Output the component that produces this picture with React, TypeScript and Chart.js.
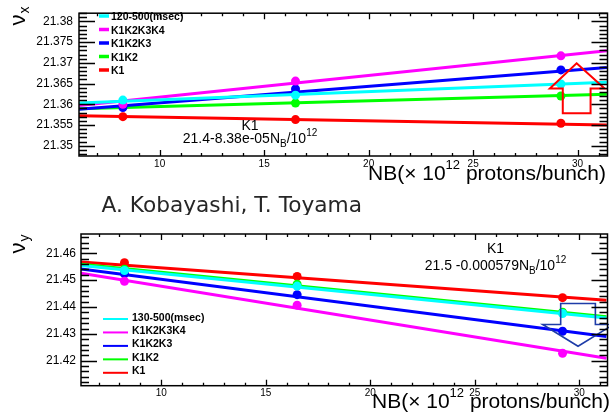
import React, { useEffect, useRef } from "react";
import { Chart, registerables } from "chart.js";
Chart.register(...registerables);

// ---------------- shared data ----------------
const nbValues = [8.24, 16.5, 29.2];
const seriesColors = ["#00ffff", "#ff00ff", "#0000ff", "#00ff00", "#ff0000"];
const xTickValues = [10, 15, 20, 25, 30];
const xTickLabels = ["10", "15", "20", "25", "30"];

// ---------------- top panel (nu_x) ----------------
const topLabels = ["120-500(msec)", "K1K2K3K4", "K1K2K3", "K1K2", "K1"];
const nuX_120_500 = [21.361, 21.3622, 21.3649];
const nuX_K1K2K3K4 = [21.36, 21.3656, 21.3717];
const nuX_K1K2K3 = [21.3592, 21.3637, 21.3683];
const nuX_K1K2 = [21.3594, 21.3603, 21.362];
const nuX_K1 = [21.357, 21.3563, 21.3554];
const nuXFitNB = [6.14, 31.4];
const nuXFitStart = [21.3603, 21.3597, 21.3588, 21.3589, 21.3572];
const nuXFitEnd = [21.3653, 21.3729, 21.3689, 21.3624, 21.355];
const yTickValuesTop = [21.35, 21.355, 21.36, 21.365, 21.37, 21.375, 21.38];
const yTickLabelsTop = ["21.35", "21.355", "21.36", "21.365", "21.37", "21.375", "21.38"];

// ---------------- bottom panel (nu_y) ----------------
const bottomLabels = ["130-500(msec)", "K1K2K3K4", "K1K2K3", "K1K2", "K1"];
const nuY_130_500 = [21.4536, 21.4478, 21.4376];
const nuY_K1K2K3K4 = [21.4496, 21.4407, 21.4228];
const nuY_K1K2K3 = [21.4524, 21.4446, 21.431];
const nuY_K1K2 = [21.4541, 21.4485, 21.4381];
const nuY_K1 = [21.4565, 21.4514, 21.4435];
const nuYFitNB = [6.16, 31.3];
const nuYFitStart = [21.4555, 21.4526, 21.4542, 21.4559, 21.4568];
const nuYFitEnd = [21.4359, 21.4209, 21.429, 21.4364, 21.4425];
const yTickValuesBottom = [21.42, 21.43, 21.44, 21.45, 21.46];
const yTickLabelsBottom = ["21.42", "21.43", "21.44", "21.45", "21.46"];

const FONT = "'Liberation Sans', Arial, Helvetica, sans-serif";

type Seg = [string, number, number];

function drawRich(ctx: CanvasRenderingContext2D, segs: Seg[], x: number, y: number, align: "left" | "center") {
  let w = 0;
  for (const s of segs) {
    ctx.font = `${s[1]}px ${FONT}`;
    w += ctx.measureText(s[0]).width;
  }
  let cx = align === "center" ? x - w / 2 : x;
  ctx.textAlign = "left";
  ctx.textBaseline = "alphabetic";
  for (const s of segs) {
    ctx.font = `${s[1]}px ${FONT}`;
    ctx.fillText(s[0], cx, y + s[2]);
    cx += ctx.measureText(s[0]).width;
  }
}

function buildDatasets(labels: string[], series: number[][], fitNB: number[], fitStart: number[], fitEnd: number[]) {
  const ds: any[] = [];
  labels.forEach((lab, i) => {
    const c = seriesColors[i];
    ds.push({
      label: lab,
      data: nbValues.map((x, j) => ({ x, y: series[i][j] })),
      showLine: false,
      pointRadius: 4.5,
      pointBackgroundColor: c,
      pointBorderWidth: 0,
      borderColor: c,
      backgroundColor: c,
    });
    ds.push({
      label: lab + " fit",
      data: [
        { x: fitNB[0], y: fitStart[i] },
        { x: fitNB[1], y: fitEnd[i] },
      ],
      borderColor: c,
      backgroundColor: c,
      borderWidth: 3,
      pointRadius: 0,
      fill: false,
    });
  });
  return ds;
}

interface Deco {
  yMinorStep: number;
  yMajor: number[];
  legendLabels: string[];
  legend: { sx0: number; sx1: number; tx: number; base0: number; step: number; lw: number; sdy: number };
  annoX: number;
  anno: { y: number; segs: Seg[] }[];
  arrow: { pts: number[][]; color: string; lw: number };
  title: { x: number; y: number; sub: string };
  nb: { x: number; y: number };
  author?: { x: number; y: number };
}

function makePlugin(d: Deco) {
  return {
    id: "deco",
    afterDraw(chart: any) {
      const ctx: CanvasRenderingContext2D = chart.ctx;
      const { left, right, top, bottom } = chart.chartArea;
      const xs = chart.scales.x;
      const ys = chart.scales.y;
      ctx.save();
      // arrow
      ctx.strokeStyle = d.arrow.color;
      ctx.lineWidth = d.arrow.lw;
      ctx.beginPath();
      d.arrow.pts.forEach((p, i) => {
        const px = xs.getPixelForValue(p[0]);
        const py = ys.getPixelForValue(p[1]);
        if (i === 0) ctx.moveTo(px, py);
        else ctx.lineTo(px, py);
      });
      ctx.closePath();
      ctx.stroke();

      // frame
      ctx.strokeStyle = "#000";
      ctx.lineWidth = 1.5;
      ctx.strokeRect(left, top, right - left, bottom - top);
      // y ticks
      ctx.lineWidth = 1.3;
      ctx.beginPath();
      const ymin = ys.min, ymax = ys.max;
      const k0 = Math.ceil(ymin / d.yMinorStep - 1e-6), k1 = Math.floor(ymax / d.yMinorStep + 1e-6);
      for (let k = k0; k <= k1; k++) {
        const v = k * d.yMinorStep;
        const major = d.yMajor.some((m) => Math.abs(m - v) < d.yMinorStep / 10);
        const len = major ? 16 : 8;
        const py = Math.round(ys.getPixelForValue(v)) + 0.5;
        ctx.moveTo(left, py);
        ctx.lineTo(left + len, py);
        ctx.moveTo(right, py);
        ctx.lineTo(right - len, py);
      }
      // x ticks
      for (let k = Math.ceil(xs.min); k <= Math.floor(xs.max); k++) {
        const major = k % 5 === 0;
        const len = major ? 6 : 3;
        const px = Math.round(xs.getPixelForValue(k)) + 0.5;
        ctx.moveTo(px, bottom);
        ctx.lineTo(px, bottom - len);
        ctx.moveTo(px, top);
        ctx.lineTo(px, top + len);
      }
      ctx.stroke();

      // legend
      const L = d.legend;
      d.legendLabels.forEach((lab, i) => {
        const by = L.base0 + i * L.step;
        ctx.strokeStyle = seriesColors[i];
        ctx.lineWidth = L.lw;
        ctx.beginPath();
        ctx.moveTo(L.sx0, by + L.sdy);
        ctx.lineTo(L.sx1, by + L.sdy);
        ctx.stroke();
        ctx.fillStyle = "#000";
        ctx.font = `bold 10.5px ${FONT}`;
        ctx.textAlign = "left";
        ctx.textBaseline = "alphabetic";
        ctx.fillText(lab, L.tx, by);
      });

      // annotation
      ctx.fillStyle = "#000";
      d.anno.forEach((a) => drawRich(ctx, a.segs, d.annoX, a.y, "center"));

      // NB axis title
      drawRich(ctx, [["NB(\u00d7 10", 21, 0], ["12", 13, -11], [" protons/bunch)", 21, 0]], d.nb.x, d.nb.y, "left");

      // nu axis title (rotated)
      ctx.save();
      ctx.translate(d.title.x, d.title.y);
      ctx.rotate(-Math.PI / 2);
      ctx.textAlign = "left";
      ctx.textBaseline = "alphabetic";
      ctx.font = `22px ${FONT}`;
      ctx.fillText("\u03bd", 0, 0);
      const w = ctx.measureText("\u03bd").width;
      ctx.font = `14px ${FONT}`;
      ctx.fillText(d.title.sub, w + 1, 4);
      ctx.restore();

      if (d.author) {
        ctx.fillStyle = "#262626";
        ctx.font = `21.7px 'DejaVu Sans', sans-serif`;
        ctx.textAlign = "left";
        ctx.textBaseline = "alphabetic";
        ctx.fillText("A. Kobayashi, T. Toyama", d.author.x, d.author.y);
      }
      ctx.restore();
    },
  };
}

function scalesCfg(xmin: number, xmax: number, ymin: number, ymax: number, yVals: number[], yLabels: string[], yWidth: number, xHeight: number, yPad: number) {
  return {
    x: {
      type: "linear",
      min: xmin,
      max: xmax,
      afterBuildTicks: (s: any) => {
        s.ticks = xTickValues.map((v) => ({ value: v }));
      },
      afterFit: (s: any) => {
        s.height = xHeight;
      },
      ticks: {
        callback: (_v: any, i: number) => xTickLabels[i],
        font: { family: FONT, size: 10 },
        color: "#000",
        padding: 2,
        autoSkip: false,
        maxRotation: 0,
        minRotation: 0,
      },
      grid: { display: false, drawTicks: false },
      border: { display: false },
    },
    y: {
      type: "linear",
      min: ymin,
      max: ymax,
      afterBuildTicks: (s: any) => {
        s.ticks = yVals.map((v) => ({ value: v }));
      },
      afterFit: (s: any) => {
        s.width = yWidth;
      },
      ticks: {
        callback: (_v: any, i: number) => yLabels[i],
        font: { family: FONT, size: 12 },
        color: "#000",
        padding: yPad,
        autoSkip: false,
      },
      grid: { display: false, drawTicks: false },
      border: { display: false },
    },
  };
}

export default function App() {
  const topRef = useRef<HTMLCanvasElement>(null);
  const botRef = useRef<HTMLCanvasElement>(null);

  useEffect(() => {
    const topChart = new Chart(topRef.current as HTMLCanvasElement, {
      type: "line",
      data: {
        datasets: buildDatasets(
          topLabels,
          [nuX_120_500, nuX_K1K2K3K4, nuX_K1K2K3, nuX_K1K2, nuX_K1],
          nuXFitNB,
          nuXFitStart,
          nuXFitEnd
        ),
      },
      options: {
        responsive: false,
        animation: false,
        devicePixelRatio: 1,
        layout: { padding: { top: 4, right: 2, left: 0, bottom: 0 } },
        plugins: { legend: { display: false }, tooltip: { enabled: false } },
        scales: scalesCfg(6.14, 31.43, 21.3475, 21.382, yTickValuesTop, yTickLabelsTop, 79, 59, 6) as any,
      },
      plugins: [
        makePlugin({
          yMinorStep: 0.001,
          yMajor: yTickValuesTop,
          legendLabels: topLabels,
          legend: { sx0: 99, sx1: 109, tx: 111, base0: 20, step: 13.5, lw: 3.5, sdy: -4 },
          annoX: 250,
          anno: [
            { y: 130, segs: [["K1", 14, 0]] },
            { y: 143, segs: [["21.4-8.38e-05N", 14, 0], ["B", 10, 4], ["/10", 14, 0], ["12", 10, -7]] },
          ],
          arrow: {
            color: "#ff0000",
            lw: 2,
            pts: [
              [29.95, 21.3699],
              [31.29, 21.3638],
              [30.62, 21.3638],
              [30.62, 21.3578],
              [29.29, 21.3578],
              [29.29, 21.3638],
              [28.67, 21.3638],
            ],
          },
          title: { x: 25, y: 25.5, sub: "x" },
          nb: { x: 368, y: 180 },
          author: { x: 101.5, y: 211.7 },
        }) as any,
      ],
    });

    const botChart = new Chart(botRef.current as HTMLCanvasElement, {
      type: "line",
      data: {
        datasets: buildDatasets(
          bottomLabels,
          [nuY_130_500, nuY_K1K2K3K4, nuY_K1K2K3, nuY_K1K2, nuY_K1],
          nuYFitNB,
          nuYFitStart,
          nuYFitEnd
        ),
      },
      options: {
        responsive: false,
        animation: false,
        devicePixelRatio: 1,
        layout: { padding: { top: 19, right: 2, left: 0, bottom: 0 } },
        plugins: { legend: { display: false }, tooltip: { enabled: false } },
        scales: scalesCfg(6.16, 31.35, 21.4107, 21.4672, yTickValuesBottom, yTickLabelsBottom, 81, 29.3, 5) as any,
      },
      plugins: [
        makePlugin({
          yMinorStep: 0.002,
          yMajor: yTickValuesBottom,
          legendLabels: bottomLabels,
          legend: { sx0: 103, sx1: 128, tx: 132, base0: 105.5, step: 13.45, lw: 2, sdy: -1.5 },
          annoX: 495.5,
          anno: [
            { y: 38.3, segs: [["K1", 14, 0]] },
            { y: 55, segs: [["21.5 -0.000579N", 14, 0], ["B", 10, 4], ["/10", 14, 0], ["12", 10, -7]] },
          ],
          arrow: {
            color: "#1e3ca8",
            lw: 1.6,
            pts: [
              [29.94, 21.4254],
              [28.25, 21.4335],
              [29.11, 21.4335],
              [29.11, 21.4413],
              [30.77, 21.4413],
              [30.77, 21.4335],
              [31.63, 21.4335],
            ],
          },
          title: { x: 25, y: 38.5, sub: "y" },
          nb: { x: 372, y: 193 },
        }) as any,
      ],
    });

    return () => {
      topChart.destroy();
      botChart.destroy();
    };
  }, []);

  return (
    <div style={{ position: "fixed", left: 0, top: 0, width: 609, height: 415, overflow: "hidden", background: "#fff" }}>
      <canvas ref={topRef} width={612} height={215} style={{ position: "absolute", left: 0, top: 0, width: 612, height: 215 }} />
      <canvas ref={botRef} width={612} height={200} style={{ position: "absolute", left: 0, top: 215, width: 612, height: 200 }} />
    </div>
  );
}
